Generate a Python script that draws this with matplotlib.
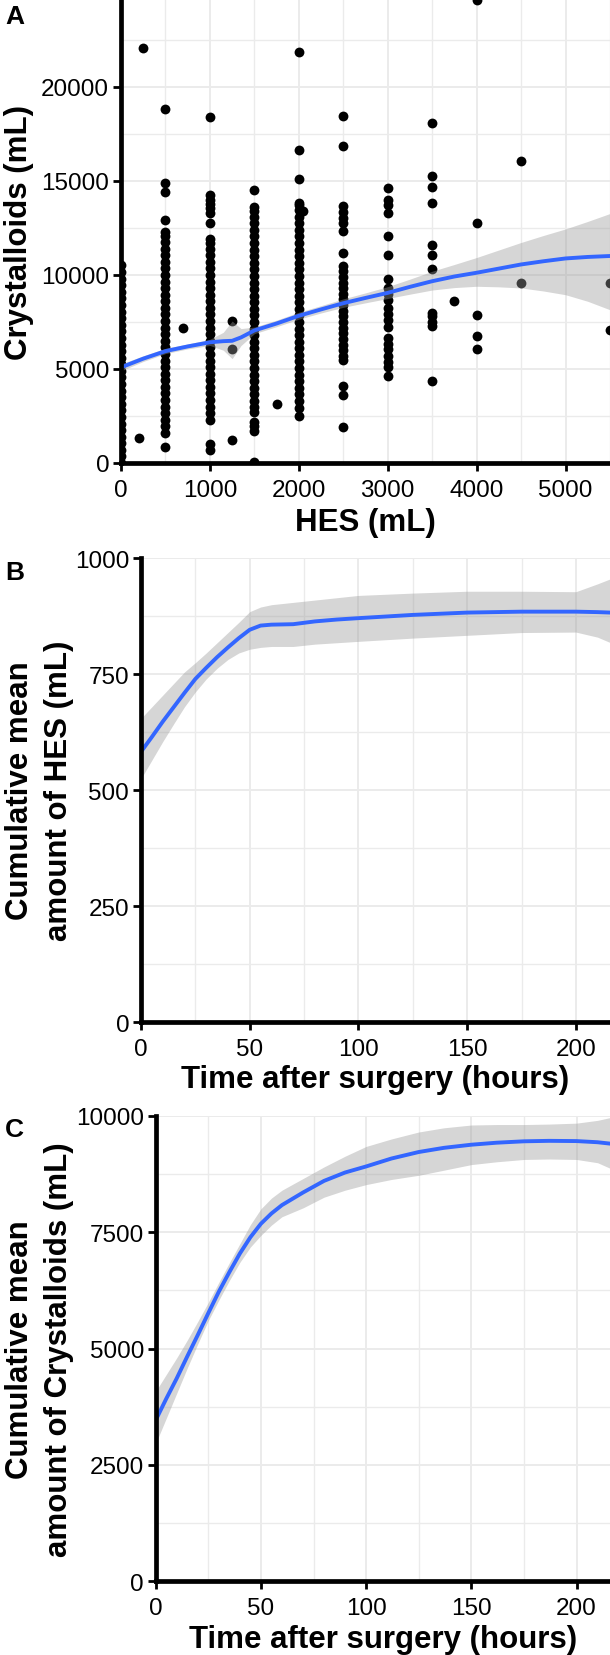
import numpy as np
import matplotlib.pyplot as plt
from matplotlib.ticker import MultipleLocator

plt.rcParams['font.family'] = ['Liberation Sans', 'DejaVu Sans']

# ---- panel A: crystalloids vs HES, one list per HES column ----
cry_at_0 = [0, 350, 700, 1050, 1400, 1750, 2100, 2450, 2800, 3150, 3500, 3850, 4200,
            4550, 4900, 5250, 5600, 5950, 6300, 6650, 7000, 7350, 7700, 8050, 8400,
            8750, 9100, 9450, 9800, 10150, 10550]
cry_at_500 = [850, 1600, 1950, 2300, 2650, 3000, 3350, 3700, 4050, 4400, 4750, 5100, 5450,
              5800, 6150, 6500, 6850, 7200, 7550, 7900, 8250, 8600, 8950, 9300, 9650,
              10000, 10350, 10700, 11050, 11400, 11750, 12100, 12300, 12900, 14400,
              14900, 18850]
cry_at_1000 = [700, 1000, 2300, 2650, 3000, 3350, 3700, 4050, 4400, 4750, 5100, 5450, 5800,
               6150, 6500, 6850, 7200, 7550, 7900, 8250, 8600, 8950, 9300, 9650, 10000,
               10350, 10700, 11050, 11400, 11700, 11900, 12750, 13300, 13550, 13800,
               14000, 14250, 18400]
cry_at_1500 = [50, 1700, 1950, 2200, 2700, 3000, 3300, 3650, 4000, 4350, 4700, 5050, 5400,
               5750, 6100, 6450, 6800, 7150, 7500, 7850, 8200, 8550, 8900, 9250, 9600,
               9950, 10300, 10650, 11000, 11350, 11700, 12050, 12400, 12750, 13100,
               13400, 13600, 14500]
cry_at_2000 = [2500, 2950, 3300, 3650, 4000, 4350, 4700, 5050, 5400, 5750, 6100, 6450, 6800,
               7150, 7500, 7850, 8200, 8550, 8900, 9250, 9600, 9950, 10300, 10650, 11000,
               11350, 11700, 12050, 12400, 12750, 13100, 13450, 13700, 13850, 15100,
               16650, 21850]
cry_at_2500 = [1900, 3600, 4100, 5500, 5700, 6000, 6300, 6600, 6900, 7200, 7500, 7800, 8100,
               8400, 8700, 9000, 9300, 9600, 9900, 10200, 10500, 11150, 12350, 12750,
               13050, 13350, 13650, 16850, 18450]
cry_at_3000 = [4650, 5100, 5350, 5700, 6050, 6350, 6650, 7250, 7600, 7900, 8250, 8650, 9000,
               9300, 9800, 11050, 12050, 13300, 13700, 14000, 14650]
cry_at_3500 = [4350, 7300, 7500, 7800, 8000, 10300, 11050, 11600, 13850, 14700, 15250, 18100]
hes_single = [200, 250, 700, 1250, 1250, 1250, 1750, 2050, 3750, 4000, 4000, 4000, 4000,
              4000, 4500, 4500, 5500, 5500]
cry_single = [1350, 22100, 7200, 1200, 6050, 7550, 3150, 13400, 8600, 6050, 6750, 7850,
              12750, 24650, 9600, 16050, 7100, 9550]

smooth_a_x = [0, 250, 500, 750, 1000, 1150, 1250, 1350, 1500, 1750, 2000, 2250, 2500,
              2750, 3000, 3250, 3500, 3750, 4000, 4250, 4500, 4750, 5000, 5250, 5500]
smooth_a_y = [5085, 5550, 5950, 6200, 6420, 6480, 6500, 6680, 7050, 7420, 7830, 8170, 8500,
              8780, 9050, 9370, 9670, 9920, 10120, 10340, 10560, 10730, 10880, 10960, 11010]
smooth_a_lo = [4900, 5400, 5820, 6070, 6250, 6000, 5550, 6250, 6880, 7250, 7650, 7980, 8280,
               8520, 8750, 8980, 9200, 9330, 9400, 9370, 9310, 9150, 8950, 8600, 8150]
smooth_a_hi = [5270, 5700, 6100, 6330, 6580, 6950, 7550, 7150, 7230, 7600, 8020, 8370, 8730,
               9050, 9380, 9780, 10200, 10560, 10930, 11330, 11730, 12100, 12450, 12850, 13270]

# ---- panel B: cumulative mean HES over time ----
hours_b = [0, 5, 10, 15, 20, 25, 30, 35, 40, 45, 50, 55, 60, 70, 80, 90, 100, 125, 150,
           175, 200, 210, 216]
hes_mean = [583, 615, 648, 679, 710, 740, 764, 787, 808, 828, 846, 855, 857, 858, 864, 868,
            871, 878, 883, 885, 885, 884, 883]
hes_lo = [525, 565, 605, 643, 680, 712, 740, 763, 782, 796, 804, 808, 810, 810, 815, 818,
          821, 828, 834, 840, 841, 830, 818]
hes_hi = [655, 680, 705, 730, 755, 775, 796, 818, 840, 862, 885, 895, 900, 905, 910, 915,
          920, 925, 929, 929, 928, 945, 956]

# ---- panel C: cumulative mean crystalloids over time ----
hours_c = [0, 5, 10, 15, 20, 25, 30, 35, 40, 45, 50, 55, 60, 70, 80, 90, 100, 112, 125,
           137, 150, 162, 175, 187, 200, 210, 216]
cry_mean = [3460, 3920, 4360, 4830, 5290, 5760, 6220, 6640, 7040, 7390, 7680, 7900, 8080,
            8350, 8600, 8780, 8910, 9080, 9220, 9310, 9377, 9420, 9450, 9460, 9455, 9430, 9400]
cry_lo = [2960, 3500, 4040, 4580, 5100, 5600, 6040, 6460, 6850, 7180, 7430, 7650, 7830,
          8020, 8250, 8400, 8520, 8630, 8720, 8830, 8950, 9010, 9060, 9070, 9060, 8990, 8870]
cry_hi = [4080, 4440, 4800, 5180, 5580, 5990, 6420, 6840, 7250, 7660, 8000, 8230, 8400,
          8650, 8900, 9130, 9340, 9500, 9650, 9740, 9800, 9810, 9810, 9820, 9840, 9900, 9960]

W, H = 610, 1656
fig = plt.figure(figsize=(W / 100, H / 100), dpi=100)


def px_axes(left, top, right, bottom):
    return fig.add_axes([left / W, 1 - bottom / H, (right - left) / W, (bottom - top) / H])


def px_text(x, y, s, **kw):
    fig.text(x / W, 1 - y / H, s, **kw)


def style(ax, xmaj, ymaj):
    for s in ['top', 'right']:
        ax.spines[s].set_visible(False)
    for s in ['left', 'bottom']:
        ax.spines[s].set_linewidth(3.4)
        ax.spines[s].set_color('black')
        ax.spines[s].set_capstyle('projecting')
        ax.spines[s].set_zorder(6)
    ax.xaxis.set_major_locator(MultipleLocator(xmaj))
    ax.xaxis.set_minor_locator(MultipleLocator(xmaj / 2))
    ax.yaxis.set_major_locator(MultipleLocator(ymaj))
    ax.yaxis.set_minor_locator(MultipleLocator(ymaj / 2))
    ax.grid(which='major', color='#EBEBEB', lw=1.4)
    ax.grid(which='minor', color='#EBEBEB', lw=1.0)
    ax.set_axisbelow(True)
    ax.tick_params(which='major', length=5.5, width=2, color='black', labelsize=17.5,
                   labelcolor='black')
    ax.tick_params(axis='x', which='major', pad=6)
    ax.tick_params(axis='y', which='major', pad=3)
    ax.tick_params(which='minor', length=0)


# panel A
ax_a = px_axes(121, 0, 610, 464)
columns = [(0, cry_at_0), (500, cry_at_500), (1000, cry_at_1000), (1500, cry_at_1500),
           (2000, cry_at_2000), (2500, cry_at_2500), (3000, cry_at_3000), (3500, cry_at_3500)]
hes_all = [h for h, ys in columns for _ in ys] + hes_single
cry_all = [y for _, ys in columns for y in ys] + cry_single
ax_a.scatter(hes_all, cry_all, s=50, c='black', lw=0, zorder=2)
ax_a.fill_between(smooth_a_x, smooth_a_lo, smooth_a_hi, color='#999999', alpha=0.4, lw=0, zorder=3)
ax_a.plot(smooth_a_x, smooth_a_y, color='#3366FF', lw=2.8, zorder=4)
ax_a.set_xlim(0, 5500)
ax_a.set_ylim(0, 24680)
style(ax_a, 1000, 5000)

# panel B
ax_b = px_axes(141, 559.3, 610, 1023.3)
ax_b.fill_between(hours_b, hes_lo, hes_hi, color='#999999', alpha=0.4, lw=0, zorder=3)
ax_b.plot(hours_b, hes_mean, color='#3366FF', lw=2.8, zorder=4)
ax_b.set_xlim(0, 215.7)
ax_b.set_ylim(0, 1000)
style(ax_b, 50, 250)

# panel C
ax_c = px_axes(155.7, 1116.7, 610, 1582.3)
ax_c.fill_between(hours_c, cry_lo, cry_hi, color='#999999', alpha=0.4, lw=0, zorder=3)
ax_c.plot(hours_c, cry_mean, color='#3366FF', lw=2.8, zorder=4)
ax_c.set_xlim(0, 215.9)
ax_c.set_ylim(0, 10000)
style(ax_c, 50, 2500)

title_kw = dict(fontsize=22.5, fontweight='bold', color='black')
rot_kw = dict(rotation=90, rotation_mode='anchor', ha='center', va='baseline', **title_kw)

# axis titles
px_text(365.5, 531, 'HES (mL)', ha='center', va='baseline', **title_kw)
px_text(27.5, 233, 'Crystalloids (mL)', **rot_kw)

px_text(375.5, 1088, 'Time after surgery (hours)', ha='center', va='baseline', **title_kw)
px_text(28, 791, 'Cumulative mean', **rot_kw)
px_text(67, 791, 'amount of HES (mL)', **rot_kw)

px_text(383, 1648, 'Time after surgery (hours)', ha='center', va='baseline', **title_kw)
px_text(28, 1349.5, 'Cumulative mean', **rot_kw)
px_text(67, 1349.5, 'amount of Crystalloids (mL)', **rot_kw)

# panel letters
for letter, yb in [('A', 24), ('B', 580), ('C', 1137)]:
    px_text(5, yb, letter, ha='left', va='baseline', fontsize=19, fontweight='bold')

fig.savefig('out.png', dpi=100)
